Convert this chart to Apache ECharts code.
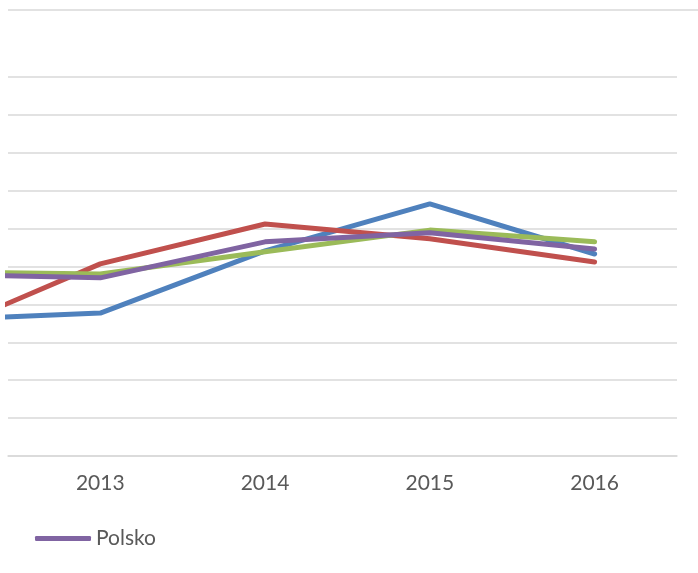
<!DOCTYPE html>
<html>
<head>
<meta charset="utf-8">
<script src="https://cdn.jsdelivr.net/npm/echarts@6/dist/echarts.min.js"></script>
<style>
  html, body { margin: 0; padding: 0; background: #fff; }
  #chart { width: 698px; height: 573px; }
</style>
</head>
<body>
<div id="chart"></div>
<script>
// roky (2012 je mimo výřez, vidět je jen začátek čáry)
const years = [2012, 2013, 2014, 2015, 2016];
const labelYears = [2013, 2014, 2015, 2016];

const cesko = [35.9, 37.7, 54.1, 66.5, 53.3];
const slovensko = [32.1, 50.7, 61.2, 57.3, 51.2];
const madarsko = [48.6, 48.0, 53.9, 59.6, 56.5];
const polsko = [48.0, 47.0, 56.5, 58.9, 54.6];

const pairs = (vals) => years.map((y, i) => [y, vals[i]]);

const chart = echarts.init(document.getElementById('chart'));

const lineSeries = (name, vals, color) => ({
  name: name,
  type: 'line',
  data: pairs(vals),
  symbol: 'none',
  smooth: false,
  clip: true,
  itemStyle: { color: color },
  lineStyle: { color: color, width: 5, cap: 'round', join: 'round' }
});

chart.setOption({
  animation: false,
  color: ['#4F81BD', '#C0504D', '#9BBB59', '#8064A2'],
  grid: { left: 8, right: 21, top: 77, bottom: 117, containLabel: false },
  legend: {
    data: ['Polsko'],
    left: 30,
    top: 523,
    icon: 'roundRect',
    itemWidth: 56,
    itemHeight: 5,
    textStyle: { color: '#595959', fontSize: 21, fontFamily: 'Lato, "Open Sans", sans-serif' }
  },
  xAxis: {
    type: 'value',
    min: 2012.44,
    max: 2016.5,
    splitLine: { show: false },
    axisTick: { show: false },
    axisLine: { show: true, lineStyle: { color: '#d9d9d9', width: 1.5 } },
    axisLabel: {
      customValues: labelYears,
      formatter: (v) => String(v),
      color: '#595959',
      fontSize: 21,
      margin: 17,
      fontFamily: 'Lato, "Open Sans", sans-serif'
    }
  },
  yAxis: {
    type: 'value',
    min: 0,
    max: 100,
    interval: 10,
    axisLabel: { show: false },
    axisTick: { show: false },
    axisLine: { show: false },
    splitLine: { show: true, lineStyle: { color: '#d9d9d9', width: 1.5 } }
  },
  graphic: [
    {
      type: 'line',
      shape: { x1: 8, y1: 10, x2: 698, y2: 10 },
      style: { stroke: '#d9d9d9', lineWidth: 1.5 }
    }
  ],
  series: [
    lineSeries('Česko', cesko, '#4F81BD'),
    lineSeries('Slovensko', slovensko, '#C0504D'),
    lineSeries('Maďarsko', madarsko, '#9BBB59'),
    lineSeries('Polsko', polsko, '#8064A2')
  ]
});
</script>
</body>
</html>
